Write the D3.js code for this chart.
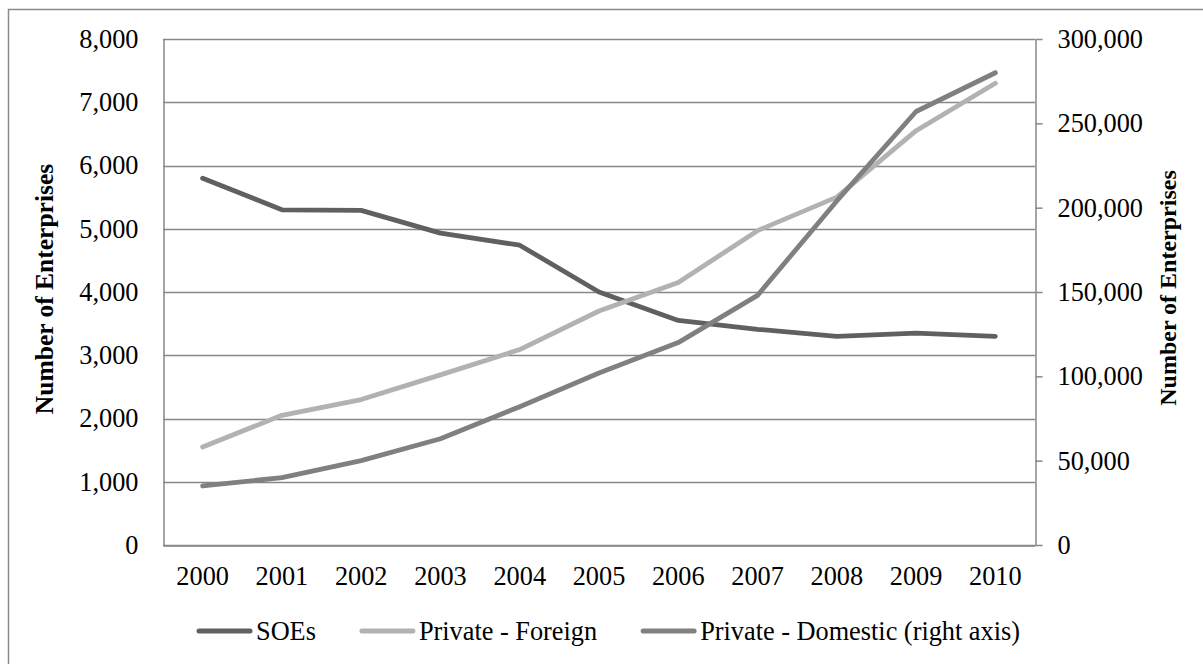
<!DOCTYPE html>
<html>
<head>
<meta charset="utf-8">
<script src="https://cdnjs.cloudflare.com/ajax/libs/d3/7.8.5/d3.min.js"></script>
<style>
  body { margin: 0; background: #fff; }
  svg { display: block; font-family: "Liberation Serif", "Times New Roman", serif; }
</style>
</head>
<body>
<div id="chart"></div>
<script>
// data
const years = ['2000', '2001', '2002', '2003', '2004', '2005', '2006', '2007', '2008', '2009', '2010'];
const soes = [5800, 5300, 5290, 4930, 4740, 4000, 3550, 3410, 3300, 3350, 3300];
const privateForeign = [1550, 2050, 2300, 2690, 3090, 3700, 4150, 4970, 5500, 6550, 7300];
const privateDomestic = [35000, 40000, 50000, 63000, 82000, 102000, 120000, 148000, 204000, 257000, 280000];
const leftTicks = [0, 1000, 2000, 3000, 4000, 5000, 6000, 7000, 8000];
const rightTicks = [0, 50000, 100000, 150000, 200000, 250000, 300000];

const series = [
  { name: 'SOEs', values: soes, axis: 'left', color: '#606060' },
  { name: 'Private - Foreign', values: privateForeign, axis: 'left', color: '#b2b2b2' },
  { name: 'Private - Domestic (right axis)', values: privateDomestic, axis: 'right', color: '#808080' }
];

const width = 1203;
const height = 664;
const plot = { left: 163, right: 1035, top: 39, bottom: 545 };
const gridColor = '#878787';
const fontSize = 26.3;

const svg = d3.select('#chart').append('svg')
  .attr('width', width)
  .attr('height', height);

// outer chart border (runs off the right and bottom edges)
svg.append('rect')
  .attr('x', 8.5)
  .attr('y', 9.5)
  .attr('width', 1210)
  .attr('height', 670)
  .attr('fill', 'none')
  .attr('stroke', '#8a8a8a')
  .attr('stroke-width', 1.5);

const x = d3.scaleBand()
  .domain(years)
  .range([plot.left, plot.right]);
const cx = d => x(d) + x.bandwidth() / 2;

const yLeft = d3.scaleLinear()
  .domain([0, 8000])
  .range([plot.bottom, plot.top]);
const yRight = d3.scaleLinear()
  .domain([0, 300000])
  .range([plot.bottom, plot.top]);

// gridlines
svg.append('g')
  .attr('class', 'grid')
  .selectAll('line')
  .data(leftTicks)
  .enter().append('line')
    .attr('x1', plot.left)
    .attr('x2', plot.right)
    .attr('y1', d => Math.round(yLeft(d)) + 0.5)
    .attr('y2', d => Math.round(yLeft(d)) + 0.5)
    .attr('stroke', gridColor)
    .attr('stroke-width', 1.5);

const styleAxis = function(g) {
  g.attr('font-family', null);
  g.selectAll('.domain').attr('stroke', gridColor).attr('stroke-width', 1.5);
  g.selectAll('.tick line').attr('stroke', gridColor).attr('stroke-width', 1.5);
  g.selectAll('text')
    .attr('fill', '#000')
    .style('font-size', fontSize + 'px')
    .style('font-family', '"Liberation Serif", "Times New Roman", serif');
};

// left axis
svg.append('g')
  .attr('transform', `translate(${plot.left + 0.5},0)`)
  .call(d3.axisLeft(yLeft)
    .tickValues(leftTicks)
    .tickSize(0)
    .tickPadding(25)
    .tickFormat(d3.format(',')))
  .call(styleAxis);

// right axis
svg.append('g')
  .attr('transform', `translate(${plot.right + 0.5},0)`)
  .call(d3.axisRight(yRight)
    .tickValues(rightTicks)
    .tickSizeInner(7)
    .tickSizeOuter(0)
    .tickPadding(15)
    .tickFormat(d3.format(',')))
  .call(styleAxis);

// bottom axis
svg.append('g')
  .attr('transform', `translate(0,${plot.bottom + 0.5})`)
  .call(d3.axisBottom(x)
    .tickSize(0)
    .tickPadding(21))
  .call(styleAxis);

// axis titles
svg.append('text')
  .attr('transform', `translate(53,289) rotate(-90)`)
  .attr('text-anchor', 'middle')
  .attr('font-weight', 'bold')
  .style('font-size', '25.5px')
  .text('Number of Enterprises');

svg.append('text')
  .attr('transform', `translate(1176,288) rotate(-90)`)
  .attr('text-anchor', 'middle')
  .attr('font-weight', 'bold')
  .style('font-size', '24px')
  .text('Number of Enterprises');

// lines
const line = function(scale) {
  return d3.line()
    .x((d, i) => cx(years[i]))
    .y(d => scale(d));
};

svg.append('g')
  .attr('class', 'series')
  .selectAll('path')
  .data(series)
  .enter().append('path')
    .attr('d', s => line(s.axis === 'left' ? yLeft : yRight)(s.values))
    .attr('fill', 'none')
    .attr('stroke', s => s.color)
    .attr('stroke-width', 4.8)
    .attr('stroke-linecap', 'round')
    .attr('stroke-linejoin', 'round');

// legend
const legend = svg.append('g')
  .attr('class', 'legend')
  .attr('transform', 'translate(0,631)');

let lx = 199;
series.forEach((s) => {
  legend.append('line')
    .attr('x1', lx)
    .attr('x2', lx + 51)
    .attr('y1', 0)
    .attr('y2', 0)
    .attr('stroke', s.color)
    .attr('stroke-width', 5)
    .attr('stroke-linecap', 'round');
  const t = legend.append('text')
    .attr('x', lx + 57)
    .attr('y', 0)
    .attr('dy', '0.33em')
    .style('font-size', fontSize + 'px')
    .text(s.name);
  lx += 57 + t.node().getComputedTextLength() + 46;
});
</script>
</body>
</html>
